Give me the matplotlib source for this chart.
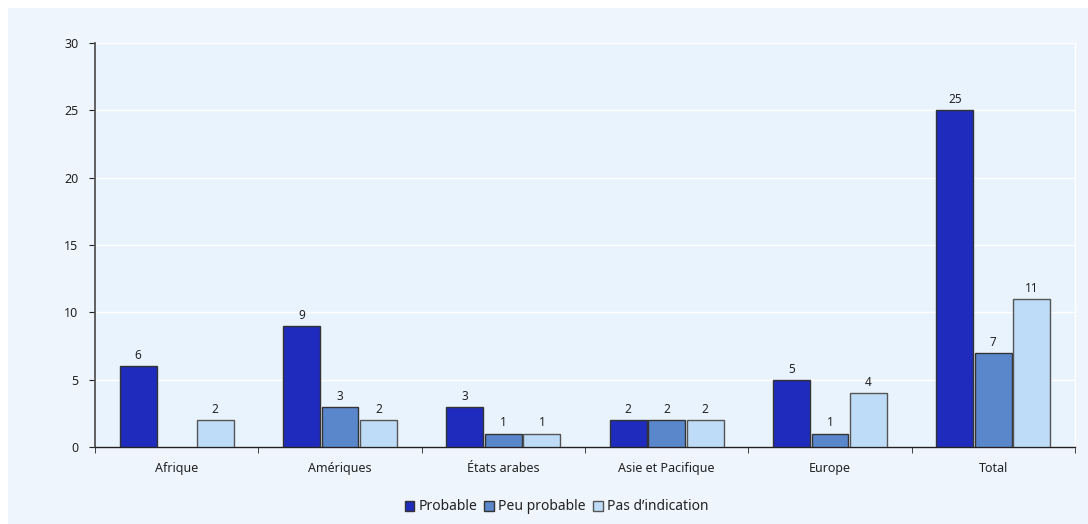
import matplotlib.pyplot as plt
import matplotlib.patches as mpatches
import numpy as np

plt.rcParams['font.family'] = ['Noto Sans', 'DejaVu Sans']

categories = ["Afrique", "Amériques", "États arabes", "Asie et Pacifique", "Europe", "Total"]
series_names = ["Probable", "Peu probable", "Pas d’indication"]
probable = [6, 9, 3, 2, 5, 25]
peu_probable = [0, 3, 1, 2, 1, 7]
pas_indication = [2, 2, 1, 2, 4, 11]
yticks = [0, 5, 10, 15, 20, 25, 30]

colors = ["#1f2bbd", "#5a87cc", "#bedcf7"]
edges = ["#333333", "#333333", "#555555"]

fig = plt.figure(figsize=(10.88, 5.24), dpi=100)
fig.patch.set_facecolor("white")
# light panel behind the chart
fig.add_artist(mpatches.Rectangle((8 / 1088, 0), 1080 / 1088, 516 / 524,
                                  transform=fig.transFigure, facecolor="#eef5fc",
                                  edgecolor="none", zorder=0))

ax = fig.add_axes([95 / 1088, 77 / 524, 980 / 1088, 404 / 524])
ax.set_facecolor("#e9f3fd")

x = np.arange(len(categories))
width = 0.226
offset = 0.236
all_series = [probable, peu_probable, pas_indication]
for i, (vals, c, ec) in enumerate(zip(all_series, colors, edges)):
    pos = x + (i - 1) * offset
    for p, v in zip(pos, vals):
        if v == 0:
            continue
        ax.bar(p, v, width=width, color=c, edgecolor=ec, linewidth=1.0, zorder=3)
        ax.text(p, v + 0.3, str(v), ha="center", va="bottom", fontsize=8.5,
                color="#222222", zorder=4)

ax.set_xlim(-0.5, len(categories) - 0.5)
ax.set_ylim(0, 30)
ax.set_yticks(yticks)
ax.set_yticklabels([str(t) for t in yticks], fontsize=9, color="#222222")
ax.yaxis.grid(True, color="white", linewidth=1.0, zorder=0)
ax.set_axisbelow(True)

ax.set_xticks(x)
ax.set_xticklabels(categories, fontsize=9, color="#222222")
ax.tick_params(axis="x", which="major", length=0, pad=11)
ax.set_xticks(np.arange(-0.5, len(categories) + 0.5, 1.0), minor=True)
ax.tick_params(axis="x", which="minor", length=4, color="#222222", direction="out")
ax.tick_params(axis="y", length=4, color="#222222", pad=8)

ax.spines["top"].set_visible(False)
ax.spines["right"].set_color("white")
ax.spines["right"].set_linewidth(1.0)
ax.spines["left"].set_color("#555555")
ax.spines["left"].set_linewidth(1.3)
ax.spines["bottom"].set_color("#222222")
ax.spines["bottom"].set_linewidth(1.0)

handles = [mpatches.Patch(facecolor=c, edgecolor=ec, linewidth=1.0) for c, ec in zip(colors, edges)]
leg = fig.legend(handles, series_names, loc="center", bbox_to_anchor=(0.5115, 17 / 524),
                 ncol=3, frameon=False, fontsize=10, handlelength=0.7, handleheight=0.7,
                 handletextpad=0.3, columnspacing=0.5)
for t in leg.get_texts():
    t.set_color("#222222")

fig.savefig("out.png", dpi=100, facecolor=fig.get_facecolor())
